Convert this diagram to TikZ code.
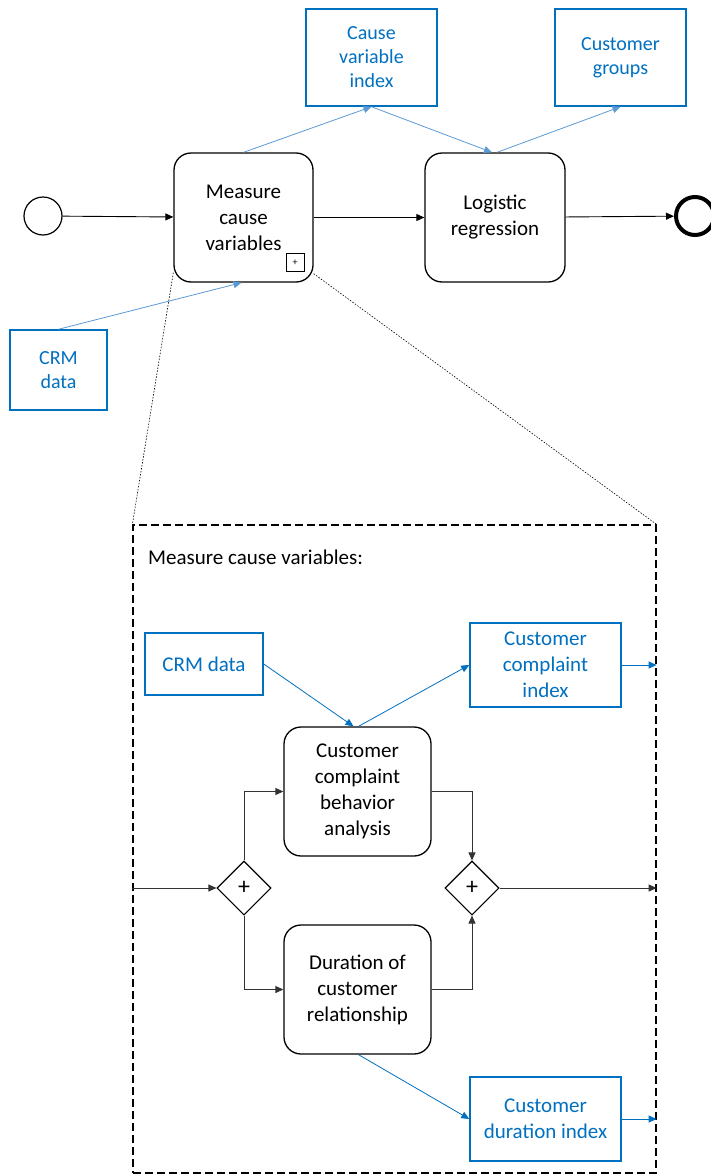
\documentclass[tikz,border=0pt]{standalone}
\usepackage{fontspec}
\setmainfont{Carlito}
\usetikzlibrary{arrows.meta,shapes.geometric}
\definecolor{dblue}{HTML}{0070C0}
\definecolor{lblue}{HTML}{5B9BD5}
\tikzset{
  task/.style={draw, rounded corners=17pt, line width=1.3pt, align=center,
    font=\fontsize{21}{26}\selectfont, inner sep=0pt},
  dataobj/.style={draw=dblue, line width=1.5pt, text=dblue, align=center,
    font=\fontsize{20}{24}\selectfont, inner sep=0pt},
  dataobjin/.style={dataobj, font=\fontsize{21}{26}\selectfont},
  bpmnevent/.style={circle, draw, inner sep=0pt, minimum size=38pt, line width=1.2pt},
  gate/.style={diamond, draw, minimum width=54pt, minimum height=54pt, inner sep=0pt,
    line width=1.1pt, font=\fontsize{24}{24}\selectfont},
  seq/.style={-{Triangle[length=8pt,width=7pt]}, line width=0.9pt},
  seqin/.style={seq, black!80},
  assoc/.style={-{Triangle[length=8pt,width=7pt]}, lblue, line width=0.8pt},
  associn/.style={-{Triangle[length=8pt,width=7pt]}, dblue, line width=0.8pt},
  zoomline/.style={line width=0.6pt, dash pattern=on 1.5pt off 1.5pt},
}
\begin{document}
\begin{tikzpicture}[x=1pt, y=-1pt]
\clip (0,0) rectangle (711,1175);
\fill[white] (0,0) rectangle (711,1175);

% main process
\node[bpmnevent] (start) at (43,216) {};
\node[task, minimum width=139pt, minimum height=129pt] (measure) at (243.5,217.5) {Measure\\cause\\variables};
\node[draw, line width=0.6pt, minimum size=18pt, inner sep=0pt, font=\fontsize{10}{10}\selectfont] (sub marker) at (295,262.5) {+};
\node[task, minimum width=140pt, minimum height=129pt] (logistic) at (495,217.5) {Logistic\\regression};
\node[bpmnevent, line width=4pt] (end) at (695,216) {};

\node[dataobj, minimum width=131pt, minimum height=97pt] (cvi) at (371.5,57.5) {Cause\\variable\\index};
\node[dataobj, minimum width=131pt, minimum height=97pt] (groups) at (620.5,57.5) {Customer\\groups};
\node[dataobj, minimum width=97pt, minimum height=80pt] (crm top) at (58.5,370) {CRM\\data};

\draw[seq] (start) -- (measure);
\draw[seq] (measure) -- (logistic);
\draw[seq] (logistic) -- (end);

\draw[assoc] (measure.north) -- (cvi.south);
\draw[assoc] (cvi.south) -- ([xshift=-3pt]logistic.north);
\draw[assoc] ([xshift=2pt]logistic.north) -- (groups.south);
\draw[assoc] (crm top.north) -- ([xshift=-2pt]measure.south);

% expanded sub-process
\node[draw, dashed, dash pattern=on 8pt off 4pt, line width=1.2pt,
      minimum width=523pt, minimum height=648pt, inner sep=0pt] (sub) at (394.5,849) {};
\draw[zoomline] ([yshift=10pt]measure.south west) -- (sub.north west);
\draw[zoomline] ([yshift=9pt]measure.south east) -- (sub.north east);

\node[anchor=west, font=\fontsize{21}{26}\selectfont, inner sep=0pt] (title) at (148,557) {Measure cause variables:};

\node[dataobjin, minimum width=118pt, minimum height=62pt] (crm in) at (204,664) {CRM data};
\node[dataobjin, minimum width=151pt, minimum height=84pt] (cci) at (545.5,665) {Customer\\complaint\\index};
\node[task, minimum width=147pt, minimum height=129pt] (t1) at (357.5,791.5) {Customer\\complaint\\behavior\\analysis};
\node[gate] (g1) at (244,888) {+};
\node[gate] (g2) at (472,888) {+};
\node[task, minimum width=147pt, minimum height=129pt] (t2) at (357.5,989.5) {Duration of\\customer\\relationship};
\node[dataobjin, minimum width=151pt, minimum height=84pt] (cdi) at (545.5,1119) {Customer\\duration index};

\draw[seqin] (g1.west -| sub.west) -- (g1.west);
\draw[seqin] (g1.north) |- (t1.west);
\draw[seqin] (g1.south) |- (t2.west);
\draw[seqin] (t1.east) -| (g2.north);
\draw[seqin] (t2.east) -| (g2.south);
\draw[seqin] (g2.east) -- (g2.east -| sub.east);

\draw[associn] (crm in.east) -- ([xshift=-4pt]t1.north);
\draw[associn] ([xshift=1pt]t1.north) -- (cci.west);
\draw[associn] (cci.east) -- (cci.east -| sub.east);
\draw[associn] ([xshift=1pt]t2.south) -- (cdi.west);
\draw[associn] (cdi.east) -- (cdi.east -| sub.east);
\end{tikzpicture}
\end{document}
